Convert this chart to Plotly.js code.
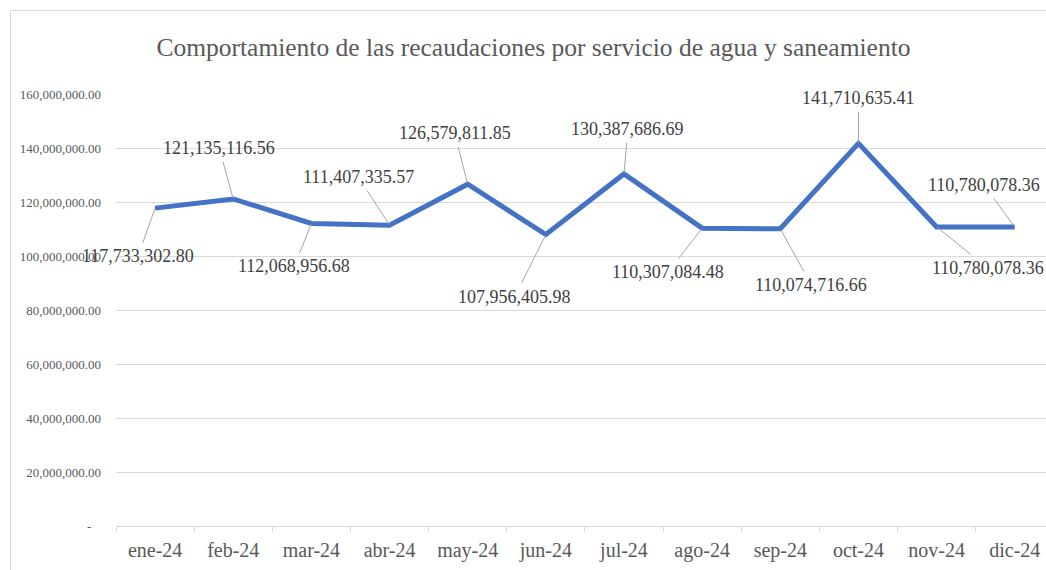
<!DOCTYPE html>
<html>
<head>
<meta charset="utf-8">
<script src="https://cdn.plot.ly/plotly-3.0.1.min.js"></script>
<style>
  html, body { margin: 0; padding: 0; background: #fff; overflow: hidden; }
  #wrap { position: relative; width: 1046px; height: 570px; }
  #chart { position: absolute; left: 0; top: 0; width: 1046px; height: 570px; }
  #frame { position: absolute; left: 10px; top: 10px; width: 1100px; height: 620px;
           border: 1px solid #d9d9d9; pointer-events: none; box-sizing: border-box; }
</style>
</head>
<body>
<div id="wrap">
  <div id="chart"></div>
  <div id="frame"></div>
</div>
<script>
const months = ["ene-24","feb-24","mar-24","abr-24","may-24","jun-24","jul-24","ago-24","sep-24","oct-24","nov-24","dic-24"];
const recaudaciones = [117733302.80, 121135116.56, 112068956.68, 111407335.57, 126579811.85, 107956405.98,
                       130387686.69, 110307084.48, 110074716.66, 141710635.41, 110780078.36, 110780078.36];
const yTickVals = [0, 20000000, 40000000, 60000000, 80000000, 100000000, 120000000, 140000000, 160000000];
const yTickText = ["-\u00a0\u00a0\u00a0", "20,000,000.00", "40,000,000.00", "60,000,000.00", "80,000,000.00",
                   "100,000,000.00", "120,000,000.00", "140,000,000.00", "160,000,000.00"];
const chartTitle = "Comportamiento de las recaudaciones por servicio de agua y saneamiento";
// label offsets (pixels) from each point
const labelDx = [-17, -14, -17, -31, -13, -31, 4, -34, 31, 0, 51, -31];
const labelDy = [48, -51, 43, -48, -51, 62, -45, 44, 56, -45, 41, -42];

const SERIF = 'Liberation Serif';

function fmt(v) {
  return v.toLocaleString('en-US', {minimumFractionDigits: 2, maximumFractionDigits: 2});
}

const annotations = recaudaciones.map((v, i) => ({
  x: months[i], y: v, xref: 'x', yref: 'y',
  text: fmt(v),
  showarrow: true, arrowhead: 0, arrowwidth: 1, arrowcolor: '#a6a6a6',
  ax: labelDx[i], ay: labelDy[i], axref: 'pixel', ayref: 'pixel',
  standoff: 1, borderpad: 3,
  font: {family: SERIF, size: 18, color: '#404040'}
}));

const trace = {
  type: 'scatter', mode: 'lines',
  x: months, y: recaudaciones,
  line: {color: '#4472C4', width: 5},
  hoverinfo: 'skip'
};

const layout = {
  width: 1046, height: 570,
  margin: {l: 116, r: 0, t: 94, b: 44},
  paper_bgcolor: 'rgba(0,0,0,0)', plot_bgcolor: '#ffffff',
  showlegend: false,
  font: {family: SERIF},
  title: {
    text: chartTitle, x: 0.51, xanchor: 'center', y: 0.918, yanchor: 'middle',
    font: {family: SERIF, size: 25.5, color: '#595959'}
  },
  xaxis: {
    type: 'category', range: [-0.5, 11.4],
    showgrid: false, zeroline: false,
    showline: true, linecolor: '#d9d9d9', linewidth: 1,
    ticks: 'outside', tickson: 'boundaries', ticklen: 5, tickcolor: '#d9d9d9', tickwidth: 1,
    tickfont: {family: SERIF, size: 20, color: '#595959'},
    ticklabelstandoff: 6
  },
  yaxis: {
    range: [0, 160000000],
    tickvals: yTickVals, ticktext: yTickText,
    showgrid: true, gridcolor: '#d9d9d9', gridwidth: 1,
    zeroline: false, showline: false, ticks: '',
    tickfont: {family: SERIF, size: 13, color: '#595959'},
    ticklabelstandoff: 14
  },
  annotations: annotations
};

Plotly.newPlot('chart', [trace], layout, {staticPlot: true, displayModeBar: false});
</script>
</body>
</html>
